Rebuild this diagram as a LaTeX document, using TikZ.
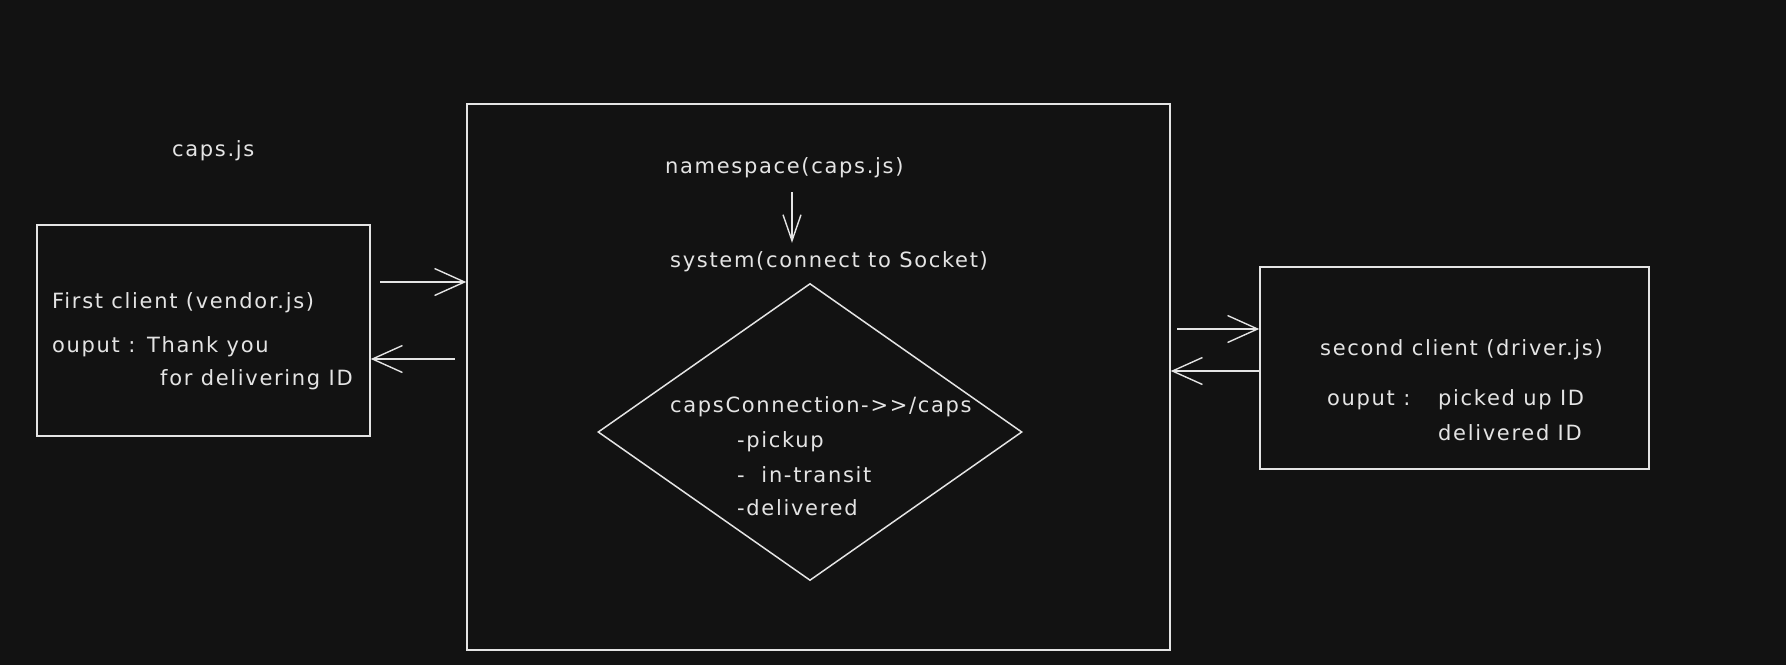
\documentclass[tikz,border=0pt]{standalone}
\usepackage{fontspec}
\setmainfont{DejaVu Sans}[LetterSpace=8]
\usepackage{tikz}
\usetikzlibrary{arrows.meta,shapes.geometric,positioning}
\definecolor{board}{HTML}{121212}
\definecolor{chalk}{HTML}{E4E4E4}
\tikzstyle{block} = [draw=chalk, line width=1.5pt, inner sep=0pt]
\tikzstyle{txt} = [text=chalk, anchor=base west, inner sep=0pt,%
	font=\fontsize{21}{24}\selectfont]
\tikzstyle{flow} = [draw=chalk, line width=1.4pt,%
	-{Straight Barb[length=30pt,width=27pt,line width=1.4pt]}]
\tikzstyle{flowdown} = [draw=chalk, line width=1.4pt, shorten >=8pt,%
	-{Straight Barb[length=26pt,width=18pt,line width=1.4pt]}]

\begin{document}
\begin{tikzpicture}[x=1pt,y=-1pt]
		\useasboundingbox (0,0) rectangle (1786,665);
		\fill[board] (0,0) rectangle (1786,665);
		% boxes
		\node[block, minimum width=333pt, minimum height=211pt] (vendor) at (203.5,330.5) {};
		\node[block, minimum width=703pt, minimum height=546pt] (caps) at (818.5,376.8) {};
		\node[block, minimum width=389pt, minimum height=202pt] (driver) at (1454.5,368) {};
		\node[block, diamond, minimum width=424pt, minimum height=297pt] (hub) at (810,432) {};
		% texts
		\node[txt] (capsjs) at (172,156) {caps.js};
		\node[txt] (vname) at (52,308) {First client (vendor.js)};
		\node[txt] (vout) at (52,352) {ouput :};
		\node[txt] (vout1) at (147,352) {Thank you};
		\node[txt] (vout2) at (160,385) {for delivering ID};
		\node[txt] (ns) at (665,173) {namespace(caps.js)};
		\node[txt] (sys) at (670,267) {system(connect to Socket)};
		\node[txt] (conn) at (670,412) {capsConnection-{}>{}>/caps};
		\node[txt] (ev1) at (737,447) {-pickup};
		\node[txt] (ev2) at (737,482) {-\ \ in-transit};
		\node[txt] (ev3) at (737,515) {-delivered};
		\node[txt] (dname) at (1320,355) {second client (driver.js)};
		\node[txt] (dout) at (1327,405) {ouput :};
		\node[txt] (dout1) at (1438,405) {picked up ID};
		\node[txt] (dout2) at (1438,440) {delivered ID};
		% arrows
		\coordinate (nsfoot) at (792,192);
		\draw[flowdown] (nsfoot) -- (nsfoot |- sys.north);
		\coordinate (vsend) at (380,282);
		\coordinate (vback) at (455,359);
		\draw[flow] (vsend) -- (vsend -| caps.west);
		\draw[flow] (vback) -- (vback -| vendor.east);
		\coordinate (dsend) at (1177,329);
		\coordinate (dback) at (1263,371);
		\draw[flow] (dsend) -- (dsend -| driver.west);
		\draw[flow] (dback -| driver.west) -- (dback -| caps.east);
	\end{tikzpicture}
\end{document}
